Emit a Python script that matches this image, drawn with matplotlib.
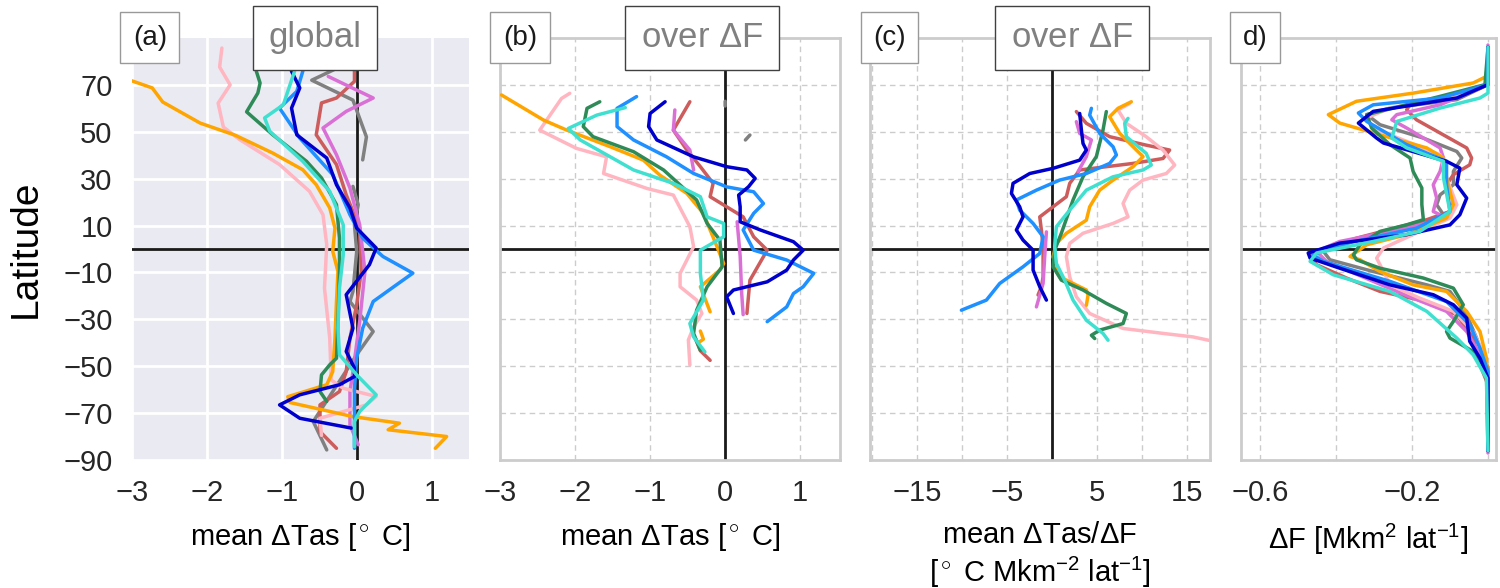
import numpy as np
import matplotlib.pyplot as plt

nan = np.nan

models = ["orange", "pink", "seagreen", "turquoise", "dodgerblue",
          "mediumblue", "indianred", "orchid", "grey"]
colours = {"orange": "#FFA500", "pink": "#FFB6C1", "seagreen": "#2E8B57",
           "turquoise": "#40E0D0", "dodgerblue": "#1E90FF", "mediumblue": "#0000CD",
           "indianred": "#CD5C5C", "orchid": "#DA70D6", "grey": "#808080"}

# (a) mean dTas, global
glob_lat = {
    "orange": [85, 82.5, 78, 74, 71.7, 68.7, 62.7, 53.7, 48.5, 40.9, 33.8, 27.4, 17.5, 8.9, -1, -9.6,
               -22.4, -38, -52.3, -57.9, -63, -65.5, -71.5, -74.3, -77.1, -80, -85],
    "pink": [85.7, 77.6, 70, 62.2, 52, 46.6, 36, 24.6, 14.6, 1.8, -16.7, -38, -55.9, -59.4, -62.9,
             -66.5, -72.2, -79.5],
    "seagreen": [80, 75.8, 70.8, 66.5, 58.5, 48.7, 37.4, 30.3, 18.9, 4.6, -9.6, -30.9, -46.6, -49.4,
                 -53.7, -60.8, -65],
    "turquoise": [80, 75.8, 61.5, 55.9, 50.2, 37.4, 24.6, 10.3, -2.5, -16.7, -33.8, -45.1, -53.7,
                  -62.2, -69.3, -73.6, -84.3],
    "dodgerblue": [80, 75.8, 67.2, 60.1, 47.3, 31.7, 14.6, 4.6, -3.2, -10.3, -15.3, -22.4, -33.8,
                   -46.6, -59.4, -85],
    "mediumblue": [80, 75.8, 68.7, 60.1, 48.7, 38.8, 27.4, 17.5, 8.9, 0.4, -6.7, -19.5, -33.8, -43.7,
                   -50.8, -54.4, -57.9, -62.2, -66.5, -72.2, -76.4],
    "indianred": [80, 71.5, 64.4, 62.3, 48.7, 36, 23.1, 8.9, -9.6, -23.8, -38, -52.3, -60.8, -66.5,
                  -77.9, -85],
    "orchid": [73.6, 64.4, 58.7, 51.6, 40.2, 26, 10.3, -9.6, -30.9, -52.3, -60.8, -75, -83.5],
    "grey": [77, 72, 63.5, 47.8, 38, nan, 26.7, 18.9, 10.3, -1, -18.1, -22.4, -35.2, -45.1, -60.8,
             -73.6, -85.7],
}
glob_val = {
    "orange": [-3.05, -2.93, -3.4, -3.3, -3.0, -2.73, -2.59, -2.09, -1.62, -1.12, -0.72, -0.54, -0.36,
               -0.29, -0.32, -0.25, -0.27, -0.29, -0.32, -0.40, -0.92, -0.89, -0.05, 0.57, 0.42, 1.2, 1.05],
    "pink": [-1.8, -1.83, -1.69, -1.85, -1.78, -1.56, -1.03, -0.63, -0.45, -0.40, -0.43, -0.36, -0.34,
             -0.18, 0.26, 0.13, -0.49, -0.47],
    "seagreen": [-1.3, -1.34, -1.29, -1.32, -1.47, -1.12, -0.67, -0.47, -0.27, -0.23, -0.23, -0.25,
                 -0.27, -0.36, -0.47, -0.49, -0.40],
    "turquoise": [-0.8, -0.83, -0.98, -1.23, -1.16, -0.72, -0.36, -0.18, -0.18, -0.23, -0.25, -0.23,
                  0.0, 0.26, 0.04, -0.03, -0.03],
    "dodgerblue": [-0.7, -0.72, -0.8, -1.03, -0.76, -0.32, -0.09, 0.08, 0.35, 0.75, 0.53, 0.22, 0.08,
                   0.0, -0.03, -0.03],
    "mediumblue": [-0.88, -0.87, -0.76, -0.87, -0.80, -0.40, -0.27, -0.09, 0.0, 0.26, 0.17, -0.14,
                   -0.05, -0.14, -0.03, -0.03, -0.23, -0.76, -1.03, -0.76, -0.07],
    "indianred": [-0.03, -0.03, -0.27, -0.47, -0.54, -0.27, -0.14, 0.04, 0.06, 0.0, -0.09, -0.14,
                  -0.23, -0.49, -0.49, -0.27],
    "orchid": [-0.38, 0.22, -0.14, -0.45, -0.27, -0.09, 0.04, 0.11, 0.04, -0.05, -0.09, -0.09, 0.02],
    "grey": [-0.27, -0.6, -0.05, 0.13, 0.08, nan, -0.05, 0.02, -0.03, 0.0, -0.05, -0.09, 0.22, 0.0,
             -0.32, -0.58, -0.40],
}

# (b) mean dTas over dF
over_lat = {
    "orange": [65.7, 55, 50.7, 43.6, 37.9, 31.5, 23.7, 15.2, -0.5, -6.2, -9, -16.1, -26.8, nan, -35,
               -38.5, -40],
    "pink": [66.4, 64.2, 50.7, 42.9, 39.3, 32.2, 25.8, 23, 9.5, 1, -10.4, -16.1, -21.8, -27.5, -33.3,
             -38.8, -49.5],
    "seagreen": [62.8, 60, 52.2, 47.9, 41.5, 33.7, 20.9, 10.9, 3.8, -7.6, -16.1, -26.1, -36, -43.2],
    "turquoise": [60.3, 57.1, 51.4, 46.5, 39.3, 33.7, 28, 22.3, 13.7, 10.9, 5.2, -0.5, -10.4, -21.8,
                  -31.8, -37.5, -43.9],
    "dodgerblue": [65, 60, 52.2, 46.5, 39.3, 32.2, 26.5, 24.4, 19.4, 15.2, 8.1, -0.5, -4.7, -10.4,
                   -16.1, -19, -24.7, -31],
    "mediumblue": [62.8, 57.8, 52.2, 46.5, 39.3, 35.1, 33.7, 30.1, 26.5, 23, 18, 11.6, 8.1, 3.1, -0.5,
                   -4.7, -9, -14, -17.5, -20.4, -27.5],
    "indianred": [62.8, 50.7, 42.2, 35.1, 28, 22.3, 18, 13.7, 5.2, -0.5, -3.3, -13.3, -27.5, nan, -38,
                  -43.4, -47.5],
    "orchid": [59.3, 50.7, 42.2, 33.7, nan, 11.6, -3, -18.8, -28],
    "grey": [63, 61, nan, 46.5, 48.6],
}
over_val = {
    "orange": [-2.98, -2.42, -2.11, -1.53, -1.09, -0.87, -0.51, -0.29, -0.09, -0.02, -0.07, -0.33,
               -0.2, nan, -0.33, -0.29, -0.36],
    "pink": [-2.07, -2.18, -2.47, -1.98, -1.58, -1.62, -1.04, -0.69, -0.47, -0.42, -0.6, -0.6, -0.38,
             -0.31, -0.42, -0.49, -0.47],
    "seagreen": [-1.67, -1.84, -1.89, -1.76, -1.22, -0.82, -0.38, -0.24, -0.07, -0.04, -0.24, -0.38,
                 -0.42, -0.33],
    "turquoise": [-1.33, -1.71, -2.09, -1.93, -1.53, -1.22, -0.69, -0.33, -0.24, -0.02, -0.02, -0.33,
                  -0.33, -0.29, -0.47, -0.42, -0.27],
    "dodgerblue": [-1.18, -1.44, -1.44, -1.22, -0.78, -0.42, 0.02, 0.38, 0.51, 0.38, 0.24, 0.38, 0.82,
                   1.18, 1.04, 0.91, 0.82, 0.56],
    "mediumblue": [-0.8, -1.0, -1.02, -0.91, -0.42, 0.02, 0.29, 0.4, 0.31, 0.18, 0.2, 0.2, 0.47, 0.91,
                   1.04, 0.91, 0.82, 0.56, 0.11, 0.02, 0.11],
    "indianred": [-0.47, -0.69, -0.51, -0.33, -0.16, -0.2, 0.02, 0.24, 0.38, 0.56, 0.51, 0.33, 0.29,
                  nan, -0.4, -0.33, -0.2],
    "orchid": [-0.67, -0.69, -0.47, -0.42, nan, 0.16, 0.2, 0.22, 0.24],
    "grey": [0.0, 0.0, nan, 0.27, 0.33],
}

# (c) mean dTas/dF
ratio_lat = {
    "orange": [62.8, 60, 56.4, 49.3, 42.2, 39.4, 35.1, 29.4, 25.1, 18, 12.3, 6.7, 2.4, -3.3, -11.9,
               -17.5, -19.7, -24],
    "pink": [62.1, 59.3, 53.6, 47.9, 42.2, 35.8, 32.2, 29.4, 25.1, 19.4, 13.7, 10.9, 6.7, 2.4, -3.3,
             -11.9, -20.4, -27.5, -33.9, -36, -37.5, -38.9, -39.5],
    "seagreen": [58.6, 50.7, 39.4, 30.8, 20.9, 6.7, -0.5, -7.6, -13.3, -17.5, -23.2, -27.5, -31.8,
                 -34.6, -36.8, -38.2],
    "turquoise": [55.7, 53.6, 47.9, 40.8, 35.8, 33.7, 30.8, 25.1, 16.6, 9.5, 1, -6.2, -13.3, -21.8,
                  -30.4, -36, -38.9],
    "dodgerblue": [60, 57.1, 49.3, 43.6, 40.1, 36.5, 32.2, 29.4, 25.1, 20.9, 16.6, 10.9, 5.2, -1.9,
                   -7.6, -14.7, -21.8, -26.1],
    "mediumblue": [57.8, 50.7, 45, 42.2, 37.9, 34.4, 32.2, 28, 23.7, 18, 13.7, 8.1, 3.8, -0.5, -9,
                   -16.1, -21.8],
    "indianred": [58.6, 53.6, 47.9, 44.3, 42.2, 38.6, 36.5, 35.1, 33.7, 28, 22.3, 18, 13.7, 8.1, 1,
                  -11.9, -16.1, -19.6],
    "orchid": [54.3, 49.3, 46.5, 39.4, 33, nan, 7.3, -3.3, -14.7, -24.7],
    "grey": [],
}
ratio_val = {
    "orange": [8.85, 7.37, 6.44, 7.56, 9.41, 10.15, 9.04, 6.82, 5.33, 4.22, 3.85, 1.63, 0.52, 0.15,
               0.89, 3.85, 4.04, 3.85],
    "pink": [8.67, 7.37, 8.3, 10.5, 12.37, 13.67, 12.74, 10.15, 8.67, 7.93, 8.48, 6.82, 3.48, 2.0,
             1.63, 2.0, 2.74, 4.22, 7.93, 12.37, 15.7, 17.4, 18.5],
    "seagreen": [6.07, 5.7, 4.96, 3.48, 2.37, 1.07, 0.33, 0.15, 1.07, 3.48, 6.07, 8.3, 7.93, 5.33,
                 4.41, 4.78],
    "turquoise": [8.48, 8.11, 8.3, 10.5, 11.07, 10.15, 6.82, 3.85, 2.0, 0.52, 0.33, 0.52, 1.44, 2.37,
                  3.85, 5.7, 6.26],
    "dodgerblue": [4.41, 4.22, 5.33, 6.82, 7.19, 6.44, 3.85, 0.89, -1.7, -3.93, -3.56, -2.07, -0.96,
                   -1.33, -3.19, -5.78, -7.26, -10.04],
    "mediumblue": [3.11, 3.3, 3.48, 3.85, 3.11, 0.15, -2.44, -4.3, -4.48, -3.56, -3.19, -3.93, -3.19,
                   -2.07, -2.07, -1.33, -0.59],
    "indianred": [2.74, 3.85, 6.44, 10.5, 13.11, 12.37, 9.04, 6.07, 3.11, 2.0, 1.63, 0.15, -1.33,
                  -1.15, -0.96, -0.96, -1.15, -1.52],
    "orchid": [2.74, 3.11, 4.41, 3.85, 2.93, nan, -0.59, -0.78, -0.96, -1.7],
    "grey": [],
}

# (d) dF
df_lat = {
    "orange": [86, 73.6, 70.8, 66.5, 63, 57.3, 53.7, 48.7, 43.1, 38.8, 30.3, 18.9, 13.2, 6.1, 1.8,
               -3.2, -4.6, -9.6, -15.3, -18.1, -26.6, -35.2, -46.6, -60.8, -86],
    "pink": [86, 70.1, 64.4, 60.1, 55.9, 51.6, 45.9, 40.2, 30.3, 18.9, 13.2, 7.5, 0.4, -3.9, -9.6,
             -15.3, -21, -26.6, -35.2, -45.1, -55.1, -86],
    "seagreen": [86, 70.1, 65.1, 57.3, 51.6, 44.5, 38.8, 33.1, 26, 18.9, 12.5, 10.3, 7.5, 1.8, -2.5,
                 -4.6, -8.2, -12.4, -16.7, -23.8, -30.9, -35.2, -38, -43.7, -52.3, -86],
    "turquoise": [86, 66.5, 64.4, 60.1, 54.4, 47.3, 43.1, 37.4, 30.3, 16, 7.5, 3.2, -1.7, -5.3, -11,
                  -18.1, -26.6, -38, -45.1, -55.1, -86],
    "dodgerblue": [86, 70.1, 64.4, 61.5, 58, 54.4, 44.5, 37.4, 27.4, 16, 8.9, 1.8, -2.5, -5.3, -13.8,
                   -22.4, -32.3, -42.3, -52.3, -86],
    "mediumblue": [86, 70.1, 64.4, 58.7, 53.7, 47.3, 45.2, 37.4, 34.5, 27.4, 21.7, 14.6, 10.3, 6.1,
                   2.5, -1.7, -3.9, -8.2, -15.3, -19.5, -23.8, -29.5, -39.4, -46.6, -55.1, -86],
    "indianred": [86, 70.1, 64.4, 61.5, 59.4, 55.1, 43.1, 38.8, 35.9, 31.7, 27.4, 21.7, 16, 12.5, 4.6,
                  -2.5, -6.7, -12.4, -18.1, -22.4, -28.1, -38, -49.4, -57.9, -86],
    "orchid": [87, 70.1, 61.5, 57.3, 55.1, 51.6, 43.1, 38.8, 33.1, 27.4, 21.7, 16, 13.2, 8.9, 3.2, -1,
               -5.3, -13.8, -21, -26.6, -35.2, -45.1, -55.1, -87],
    "grey": [86, 70.1, 63.7, 60.1, 57.3, 53, 47.3, 41.6, 38.8, 33.1, 27.4, 23.1, 18.9, 14.6, 11.8, 6.1,
             -1, -4.6, -9.6, -15.3, -18.1, -28.1, -38, -50.8, -86],
}
df_val = {
    "orange": [0, -0.004, -0.039, -0.196, -0.346, -0.42, -0.39, -0.284, -0.161, -0.117, -0.109, -0.091,
               -0.109, -0.214, -0.319, -0.363, -0.337, -0.284, -0.197, -0.109, -0.056, -0.021, -0.004,
               0, 0],
    "pink": [0, 0, -0.109, -0.258, -0.319, -0.302, -0.214, -0.126, -0.109, -0.082, -0.1, -0.179,
             -0.275, -0.293, -0.275, -0.258, -0.179, -0.091, -0.039, -0.01, 0, 0],
    "seagreen": [0, -0.008, -0.126, -0.319, -0.306, -0.258, -0.205, -0.197, -0.174, -0.174, -0.17,
                 -0.214, -0.284, -0.337, -0.354, -0.346, -0.284, -0.17, -0.091, -0.065, -0.091, -0.109,
                 -0.1, -0.039, -0.004, 0],
    "turquoise": [0, 0, -0.021, -0.126, -0.24, -0.253, -0.214, -0.117, -0.117, -0.1, -0.179, -0.302,
                  -0.451, -0.468, -0.407, -0.258, -0.161, -0.082, -0.039, -0.004, 0],
    "dodgerblue": [0, 0, -0.126, -0.302, -0.341, -0.319, -0.214, -0.109, -0.109, -0.1, -0.188, -0.39,
                   -0.46, -0.433, -0.258, -0.109, -0.048, -0.021, 0, 0],
    "mediumblue": [0, 0, -0.082, -0.302, -0.341, -0.293, -0.275, -0.109, -0.074, -0.082, -0.056,
                   -0.074, -0.1, -0.214, -0.39, -0.473, -0.468, -0.39, -0.258, -0.144, -0.091, -0.056,
                   -0.048, -0.021, 0, 0],
    "indianred": [0, 0, -0.082, -0.205, -0.214, -0.188, -0.056, -0.043, -0.048, -0.091, -0.109, -0.091,
                  -0.1, -0.161, -0.346, -0.468, -0.451, -0.372, -0.284, -0.161, -0.082, -0.039, -0.021,
                  0, 0],
    "orchid": [0, 0, -0.126, -0.24, -0.253, -0.214, -0.126, -0.117, -0.126, -0.144, -0.135, -0.144,
               -0.109, -0.214, -0.39, -0.451, -0.425, -0.302, -0.197, -0.109, -0.056, -0.021, 0, 0],
    "grey": [0, 0, -0.082, -0.258, -0.319, -0.284, -0.17, -0.082, -0.069, -0.091, -0.091, -0.126,
             -0.135, -0.117, -0.161, -0.302, -0.433, -0.416, -0.302, -0.161, -0.1, -0.056, -0.03, 0, 0],
}

lat_ticks = [-90, -70, -50, -30, -10, 10, 30, 50, 70]
draw_order = ["grey", "indianred", "orchid", "pink", "orange", "seagreen", "dodgerblue",
              "mediumblue", "turquoise"]

plt.rcParams['font.family'] = ['Liberation Sans', 'DejaVu Sans']
plt.rcParams['mathtext.fontset'] = 'custom'
plt.rcParams['mathtext.rm'] = 'Liberation Sans'
plt.rcParams['mathtext.it'] = 'Liberation Sans'
plt.rcParams['text.color'] = '#262626'
plt.rcParams['xtick.color'] = '#262626'
plt.rcParams['ytick.color'] = '#262626'

fig = plt.figure(figsize=(15, 5.88), dpi=100)
bottom, height = 0.2177, 0.7177
ax_a = fig.add_axes([0.088, bottom, 0.2247, height])
ax_b = fig.add_axes([0.3333, bottom, 0.2267, height])
ax_c = fig.add_axes([0.58, bottom, 0.2267, height])
ax_d = fig.add_axes([0.8273, bottom, 0.17, height])


def draw_lines(ax, lats, vals):
	for m in draw_order:
		if len(lats[m]) == 0:
			continue
		ax.plot(vals[m], lats[m], color=colours[m], lw=2.5, zorder=3,
		        solid_capstyle='round', solid_joinstyle='round')


def label_box(ax, x, txt, size, col, edge):
	ax.text(x, 1.0, txt, transform=ax.transAxes, ha='center', va='center', fontsize=size,
	        color=col, zorder=20, clip_on=False,
	        bbox=dict(boxstyle='square,pad=0.45', fc='white', ec=edge, lw=1.0))


# panel a: darkgrid look
ax_a.set_facecolor('#EAEAF2')
for s in ax_a.spines.values():
	s.set_visible(False)
ax_a.grid(True, color='white', lw=2)
ax_a.set_axisbelow(True)
draw_lines(ax_a, glob_lat, glob_val)
ax_a.axhline(0, color='#1a1a1a', lw=2, zorder=2)
ax_a.axvline(0, color='#1a1a1a', lw=2, zorder=2)
ax_a.set_xlim(-3, 1.5)
ax_a.set_xticks([-3, -2, -1, 0, 1])
ax_a.set_ylabel("Latitude", fontsize=28, labelpad=14)
ax_a.set_xlabel("mean $\\Delta$Tas [$^\\circ$ C]", fontsize=21, labelpad=10)
label_box(ax_a, 0.053, "(a)", 20, '#1a1a1a', '#999999')
label_box(ax_a, 0.543, "global", 25, '#808080', '#404040')

# panels b-d: white with dashed grid
for ax in [ax_b, ax_c, ax_d]:
	ax.set_facecolor('white')
	for s in ax.spines.values():
		s.set_color('#cccccc')
		s.set_linewidth(2)
	ax.grid(True, color='#cccccc', lw=1, ls=(0, (4, 3)))
	ax.set_axisbelow(True)
	ax.set_yticklabels([])

draw_lines(ax_b, over_lat, over_val)
ax_b.axhline(0, color='#1a1a1a', lw=2, zorder=2)
ax_b.axvline(0, color='#1a1a1a', lw=2, zorder=2)
ax_b.set_xlim(-3, 1.53)
ax_b.set_xticks([-3, -2, -1, 0, 1])
ax_b.set_xlabel("mean $\\Delta$Tas [$^\\circ$ C]", fontsize=21, labelpad=10)
label_box(ax_b, 0.059, "(b)", 20, '#1a1a1a', '#999999')
label_box(ax_b, 0.594, "over $\\Delta$F", 25, '#808080', '#404040')

draw_lines(ax_c, ratio_lat, ratio_val)
ax_c.axhline(0, color='#1a1a1a', lw=2, zorder=2)
ax_c.axvline(0, color='#1a1a1a', lw=2, zorder=2)
ax_c.set_xlim(-20.2, 17.6)
ax_c.set_xticks([-20, -15, -10, -5, 0, 5, 10, 15])
ax_c.set_xticklabels(['', '\u221215', '', '\u22125', '', '5', '', '15'])
ax_c.set_xlabel("mean $\\Delta$Tas/$\\Delta$F\n[$^\\circ$ C Mkm$^{-2}$ lat$^{-1}$]", fontsize=21,
                labelpad=10)
label_box(ax_c, 0.057, "(c)", 20, '#1a1a1a', '#999999')
label_box(ax_c, 0.594, "over $\\Delta$F", 25, '#808080', '#404040')

draw_lines(ax_d, df_lat, df_val)
ax_d.axhline(0, color='#1a1a1a', lw=2, zorder=2)
ax_d.set_xlim(-0.65, 0.021)
ax_d.set_xticks([-0.6, -0.4, -0.2, 0.0])
ax_d.set_xticklabels(['\u22120.6', '', '\u22120.2', ''])
ax_d.set_xlabel("$\\Delta$F [Mkm$^2$ lat$^{-1}$]", fontsize=21, labelpad=10)
label_box(ax_d, 0.055, "d)", 20, '#1a1a1a', '#999999')

for ax in [ax_a, ax_b, ax_c, ax_d]:
	ax.set_ylim(-90, 90)
	ax.set_yticks(lat_ticks)
	ax.tick_params(length=0, labelsize=21, pad=14)

fig.savefig("out.png", dpi=100)
